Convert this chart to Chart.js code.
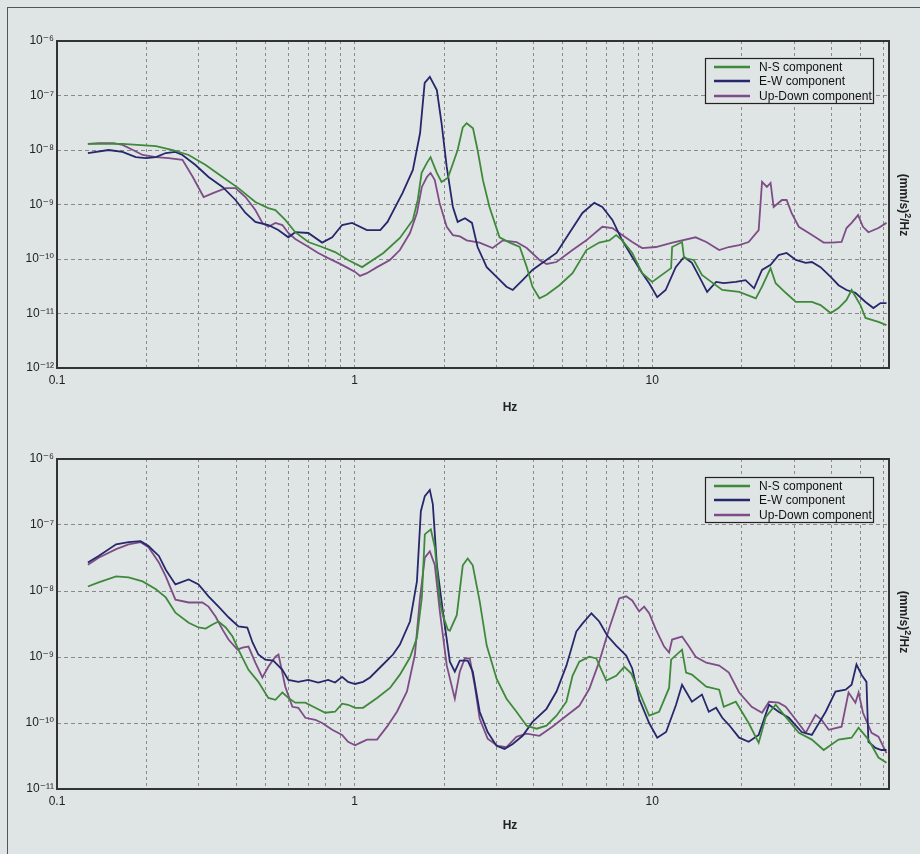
<!DOCTYPE html>
<html>
<head>
<meta charset="utf-8">
<script src="https://cdn.jsdelivr.net/npm/chart.js@4.4.1/dist/chart.umd.min.js"></script>
<style>
  html, body { margin: 0; padding: 0; }
  body {
    width: 920px; height: 854px; position: relative; overflow: hidden;
    background: #dfe5e4;
    font-family: "Liberation Sans", Arial, sans-serif;
  }
  .frame { position: absolute; left: 7px; top: 7px; right: -2px; bottom: -2px; border: 1px solid #555; }
  canvas { position: absolute; left: 0; }
  #top-chart { top: 0; }
  #bottom-chart { top: 427px; }
  .hz { position: absolute; font-size: 12px; font-weight: bold; color: #222; transform: translateX(-50%); }
  .ytitle {
    position: absolute; font-size: 12px; font-weight: bold; color: #222; white-space: nowrap;
    transform: translate(-50%, -50%) rotate(90deg);
  }
</style>
</head>
<body>
<div class="frame"></div>
<canvas id="top-chart" width="920" height="427"></canvas>
<canvas id="bottom-chart" width="920" height="427"></canvas>
<div class="hz" style="left:510px; top:400px;">Hz</div>
<div class="hz" style="left:510px; top:818px;">Hz</div>
<div class="ytitle" style="left:905px; top:205px;">(mm/s)<sup style="font-size:9px">2</sup>/Hz</div>
<div class="ytitle" style="left:905px; top:622px;">(mm/s)<sup style="font-size:9px">2</sup>/Hz</div>

<script>
// [Hz, (mm/s)^2/Hz]
const topNs = [[0.127,1.29e-8],[0.166,1.3e-8],[0.215,1.18e-8],[0.245,1.0e-8],[0.277,8.1e-9],[0.316,5.3e-9],[0.360,3.2e-9],[0.407,2.0e-9],[0.464,1.11e-9],[0.513,8.6e-10],[0.542,7.9e-10],[0.585,5.2e-10],[0.632,3.1e-10],[0.699,2.05e-10],[0.778,1.66e-10],[0.860,1.34e-10],[0.951,9.6e-11],[1.06,7.1e-11],[1.25,1.29e-10],[1.42,2.43e-10],[1.57,5.2e-10],[1.63,1.21e-9],[1.68,3.8e-9],[1.75,5.8e-9],[1.80,7.4e-9],[1.89,3.8e-9],[1.96,2.6e-9],[2.06,3.1e-9],[2.22,1.0e-8],[2.31,2.6e-8],[2.38,3.1e-8],[2.50,2.5e-8],[2.59,1.0e-8],[2.70,2.8e-9],[2.84,9.0e-10],[3.07,2.5e-10],[3.32,2.0e-10],[3.59,1.66e-10],[3.79,7.1e-11],[3.96,3.1e-11],[4.18,1.9e-11],[4.42,2.2e-11],[4.88,3.3e-11],[5.40,5.5e-11],[6.01,1.46e-10],[6.64,2.0e-10],[7.18,2.2e-10],[7.57,2.75e-10],[7.93,2.2e-10],[8.57,1.29e-10],[9.26,5.5e-11],[10.0,3.8e-11],[11.58,6.8e-11],[11.67,1.66e-10],[12.6,2.05e-10],[12.8,1.04e-10],[13.8,9.6e-11],[14.7,5.1e-11],[15.8,3.8e-11],[17.2,2.7e-11],[19.6,2.5e-11],[22.3,1.9e-11],[23.4,3.1e-11],[25.0,6.8e-11],[26.0,3.6e-11],[28.1,2.4e-11],[30.4,1.63e-11],[34.4,1.63e-11],[36.8,1.43e-11],[39.8,1.02e-11],[42.3,1.26e-11],[45.0,1.77e-11],[46.8,2.7e-11],[50.1,1.43e-11],[52.1,8.3e-12],[57.6,7.0e-12],[61.3,6.1e-12]];
const topEw = [[0.127,8.8e-9],[0.149,1.0e-8],[0.166,9.2e-9],[0.184,7.4e-9],[0.199,7.1e-9],[0.215,7.4e-9],[0.232,8.8e-9],[0.250,9.2e-9],[0.264,8.1e-9],[0.292,5.3e-9],[0.323,3.2e-9],[0.360,2.1e-9],[0.398,1.21e-9],[0.430,7.0e-10],[0.464,4.8e-10],[0.513,4.2e-10],[0.554,3.4e-10],[0.599,2.5e-10],[0.632,3.1e-10],[0.699,3.0e-10],[0.778,2.0e-10],[0.841,2.5e-10],[0.908,4.2e-10],[0.981,4.6e-10],[1.10,3.4e-10],[1.22,3.4e-10],[1.29,4.8e-10],[1.45,1.63e-9],[1.57,4.3e-9],[1.66,2.05e-8],[1.72,1.7e-7],[1.79,2.2e-7],[1.89,1.26e-7],[1.96,3.1e-8],[2.04,4.9e-9],[2.14,9.0e-10],[2.22,4.8e-10],[2.35,5.6e-10],[2.48,4.6e-10],[2.59,1.66e-10],[2.78,7.1e-11],[3.0,4.7e-11],[3.24,3.1e-11],[3.40,2.7e-11],[3.67,4.1e-11],[3.96,6.3e-11],[4.28,8.5e-11],[4.77,1.29e-10],[5.27,3.0e-10],[5.83,7.0e-10],[6.39,1.07e-9],[6.80,9.0e-10],[7.35,5.2e-10],[7.93,2.2e-10],[8.57,1.09e-10],[9.26,5.5e-11],[9.77,3.6e-11],[10.4,2.0e-11],[11.1,2.7e-11],[12.0,7.1e-11],[12.8,1.09e-10],[13.6,8.5e-11],[14.6,4.1e-11],[15.3,2.5e-11],[16.4,3.8e-11],[17.4,3.6e-11],[19.1,3.8e-11],[20.6,4.1e-11],[22.0,2.9e-11],[23.4,6.3e-11],[25.0,7.8e-11],[26.6,1.18e-10],[28.3,1.29e-10],[30.4,9.6e-11],[32.8,8.5e-11],[34.4,8.8e-11],[36.8,7.1e-11],[39.8,4.7e-11],[42.3,3.3e-11],[45.0,2.7e-11],[48.2,2.4e-11],[52.1,1.63e-11],[55.4,1.26e-11],[58.5,1.55e-11],[61.3,1.55e-11]];
const topUd = [[0.127,1.29e-8],[0.138,1.34e-8],[0.155,1.34e-8],[0.166,1.24e-8],[0.180,1.0e-8],[0.194,8.1e-9],[0.215,7.4e-9],[0.237,7.1e-9],[0.264,6.6e-9],[0.286,3.2e-9],[0.311,1.37e-9],[0.336,1.63e-9],[0.369,2.0e-9],[0.398,2.0e-9],[0.430,1.37e-9],[0.464,7.9e-10],[0.490,4.6e-10],[0.513,3.9e-10],[0.542,4.6e-10],[0.572,4.2e-10],[0.599,3.0e-10],[0.632,2.33e-10],[0.683,1.8e-10],[0.755,1.29e-10],[0.815,1.04e-10],[0.880,8.5e-11],[0.951,6.8e-11],[1.004,5.8e-11],[1.043,4.9e-11],[1.10,5.5e-11],[1.19,7.1e-11],[1.315,9.6e-11],[1.42,1.46e-10],[1.535,3.0e-10],[1.62,7.0e-10],[1.683,2.1e-9],[1.75,3.2e-9],[1.80,3.8e-9],[1.86,2.8e-9],[1.93,1.07e-9],[2.04,3.9e-10],[2.14,2.75e-10],[2.26,2.6e-10],[2.38,2.2e-10],[2.63,2.0e-10],[2.91,1.59e-10],[3.15,2.2e-10],[3.50,2.05e-10],[3.79,1.59e-10],[4.18,9.6e-11],[4.42,8.1e-11],[4.77,8.8e-11],[5.40,1.46e-10],[6.01,2.2e-10],[6.80,3.9e-10],[7.35,3.7e-10],[7.93,2.75e-10],[8.57,2.05e-10],[9.26,1.59e-10],[10.3,1.66e-10],[11.7,2.0e-10],[14.0,2.5e-10],[15.2,2.05e-10],[16.8,1.46e-10],[18.1,1.66e-10],[19.6,1.8e-10],[21.1,2.05e-10],[22.8,3.4e-10],[23.4,2.6e-9],[24.3,2.1e-9],[25.0,2.48e-9],[25.6,9.0e-10],[27.3,1.21e-9],[28.3,1.21e-9],[29.4,7.0e-10],[31.1,3.9e-10],[33.6,3.0e-10],[35.4,2.5e-10],[37.7,2.0e-10],[40.1,2.0e-10],[43.3,2.05e-10],[45.0,3.7e-10],[46.8,4.6e-10],[49.2,6.4e-10],[51.1,3.9e-10],[53.3,3.1e-10],[57.6,3.7e-10],[61.3,4.6e-10]];

const bottomNs = [[0.127,1.17e-8],[0.138,1.35e-8],[0.158,1.67e-8],[0.174,1.61e-8],[0.194,1.4e-8],[0.215,1.06e-8],[0.232,8.0e-9],[0.250,4.7e-9],[0.277,3.3e-9],[0.299,2.8e-9],[0.316,2.7e-9],[0.333,3.1e-9],[0.349,3.45e-9],[0.369,2.8e-9],[0.389,2.04e-9],[0.407,1.29e-9],[0.44,6.4e-10],[0.475,4.2e-10],[0.513,2.4e-10],[0.542,2.25e-10],[0.572,2.9e-10],[0.599,2.4e-10],[0.632,2.03e-10],[0.683,2.03e-10],[0.738,1.7e-10],[0.797,1.43e-10],[0.860,1.48e-10],[0.908,1.96e-10],[0.951,1.89e-10],[1.004,1.7e-10],[1.068,1.7e-10],[1.19,2.4e-10],[1.315,3.4e-10],[1.42,5.4e-10],[1.535,9.8e-10],[1.62,1.97e-9],[1.683,8.0e-9],[1.722,7.2e-8],[1.757,7.8e-8],[1.804,8.6e-8],[1.861,4.6e-8],[1.934,6.95e-9],[1.98,4.3e-9],[2.057,2.6e-9],[2.09,2.5e-9],[2.205,4.3e-9],[2.31,2.45e-8],[2.40,3.1e-8],[2.495,2.45e-8],[2.633,6.95e-9],[2.78,1.49e-9],[3.0,4.7e-10],[3.24,2.33e-10],[3.50,1.48e-10],[3.785,9.1e-11],[4.09,8.2e-11],[4.415,9.1e-11],[4.77,1.29e-10],[5.15,2.1e-10],[5.4,5.2e-10],[5.69,8.5e-10],[6.15,1.01e-9],[6.49,9.5e-10],[7.01,4.4e-10],[7.57,5.2e-10],[8.06,7.1e-10],[8.51,5.6e-10],[9.04,3.0e-10],[9.77,1.29e-10],[10.55,1.48e-10],[11.40,3.4e-10],[11.58,9.1e-10],[12.6,1.29e-9],[13.0,5.8e-10],[13.6,5.4e-10],[15.2,3.55e-10],[16.8,3.2e-10],[17.4,1.76e-10],[19.1,2.1e-10],[21.1,1.0e-10],[22.8,5.0e-11],[24.1,1.24e-10],[26.0,1.89e-10],[28.1,1.24e-10],[31.1,7.1e-11],[34.4,5.6e-11],[37.7,3.9e-11],[42.3,5.6e-11],[46.8,6.0e-11],[49.4,8.5e-11],[53.3,5.6e-11],[57.6,3.0e-11],[61.3,2.5e-11]];
const bottomEw = [[0.127,2.7e-8],[0.138,3.4e-8],[0.158,5.1e-8],[0.174,5.5e-8],[0.191,5.7e-8],[0.203,4.8e-8],[0.220,3.4e-8],[0.232,2.1e-8],[0.250,1.26e-8],[0.277,1.5e-8],[0.299,1.26e-8],[0.323,8.3e-9],[0.349,5.8e-9],[0.377,4.0e-9],[0.407,2.9e-9],[0.436,2.8e-9],[0.454,1.66e-9],[0.475,1.09e-9],[0.501,9.1e-10],[0.533,8.8e-10],[0.572,6.4e-10],[0.599,4.5e-10],[0.647,4.2e-10],[0.699,4.5e-10],[0.755,4.1e-10],[0.815,4.5e-10],[0.860,4.1e-10],[0.908,5.0e-10],[0.951,4.2e-10],[1.004,3.9e-10],[1.068,4.2e-10],[1.127,4.9e-10],[1.246,7.7e-10],[1.346,1.09e-9],[1.42,1.54e-9],[1.535,3.45e-9],[1.62,1.4e-8],[1.67,1.62e-7],[1.722,2.74e-7],[1.79,3.4e-7],[1.832,2.07e-7],[1.89,2.5e-8],[1.98,4.9e-9],[2.09,8.5e-10],[2.172,6.0e-10],[2.257,8.8e-10],[2.40,8.8e-10],[2.495,6.0e-10],[2.633,1.48e-10],[2.80,7.3e-11],[3.0,4.5e-11],[3.19,4.05e-11],[3.40,4.8e-11],[3.67,6.4e-11],[3.963,1.04e-10],[4.415,1.64e-10],[4.77,3.0e-10],[5.15,7.4e-10],[5.56,2.43e-9],[5.83,3.2e-9],[6.25,4.6e-9],[6.64,3.45e-9],[7.07,2.1e-9],[7.57,1.49e-9],[8.18,1.05e-9],[8.57,6.7e-10],[9.04,2.33e-10],[9.77,1.0e-10],[10.4,6.0e-11],[11.14,7.3e-11],[12.03,1.89e-10],[12.6,3.8e-10],[13.6,2.1e-10],[14.7,2.7e-10],[15.5,1.48e-10],[16.4,1.7e-10],[17.2,1.2e-10],[18.1,9.4e-11],[19.6,6.0e-11],[21.1,5.2e-11],[22.8,6.6e-11],[24.7,1.89e-10],[26.6,1.48e-10],[28.8,1.2e-10],[31.8,7.3e-11],[34.4,6.6e-11],[38.3,1.48e-10],[41.3,3.0e-10],[44.7,3.2e-10],[46.8,3.8e-10],[48.6,7.7e-10],[50.5,5.4e-10],[52.5,4.2e-10],[53.3,5.2e-11],[56.3,4.2e-11],[58.9,3.9e-11],[61.3,3.9e-11]];
const bottomUd = [[0.127,2.5e-8],[0.138,3.2e-8],[0.158,4.3e-8],[0.174,5.1e-8],[0.191,5.5e-8],[0.203,4.6e-8],[0.220,2.7e-8],[0.232,1.67e-8],[0.250,7.4e-9],[0.277,6.7e-9],[0.308,6.7e-9],[0.323,5.8e-9],[0.341,4.1e-9],[0.360,2.6e-9],[0.377,1.84e-9],[0.404,1.29e-9],[0.42,1.39e-9],[0.44,1.44e-9],[0.464,8.2e-10],[0.490,4.9e-10],[0.513,7.1e-10],[0.542,1.01e-9],[0.555,1.09e-9],[0.585,3.55e-10],[0.618,1.76e-10],[0.647,1.7e-10],[0.683,1.2e-10],[0.738,1.12e-10],[0.778,1.0e-10],[0.841,7.9e-11],[0.908,6.6e-11],[0.951,5.2e-11],[1.004,4.6e-11],[1.043,5.0e-11],[1.101,5.6e-11],[1.19,5.6e-11],[1.285,8.8e-11],[1.388,1.48e-10],[1.50,3.0e-10],[1.595,1.09e-9],[1.657,7.4e-9],[1.722,3.2e-8],[1.79,4.0e-8],[1.861,2.45e-8],[1.934,4.9e-9],[2.041,7.4e-10],[2.172,2.33e-10],[2.257,6.0e-10],[2.346,9.5e-10],[2.438,9.5e-10],[2.534,3.7e-10],[2.633,1.16e-10],[2.80,5.8e-11],[3.025,4.5e-11],[3.24,4.3e-11],[3.50,6.2e-11],[3.785,6.9e-11],[4.18,6.4e-11],[4.62,8.8e-11],[5.15,1.29e-10],[5.69,1.82e-10],[6.15,3.3e-10],[6.64,8.5e-10],[7.17,2.7e-9],[7.75,7.7e-9],[8.18,8.3e-9],[8.57,7.2e-9],[9.04,4.9e-9],[9.4,5.8e-9],[9.77,4.6e-9],[10.3,2.6e-9],[10.97,1.44e-9],[11.4,1.17e-9],[11.67,1.84e-9],[12.6,2.04e-9],[13.3,1.44e-9],[14.0,1.01e-9],[15.2,8.2e-10],[16.8,7.4e-10],[18.1,5.8e-10],[19.6,2.9e-10],[21.6,1.76e-10],[23.4,1.43e-10],[24.7,2.1e-10],[26.6,2.03e-10],[28.1,1.76e-10],[30.4,1.12e-10],[32.8,7.1e-11],[35.4,1.33e-10],[37.1,1.12e-10],[39.2,7.9e-11],[43.3,8.8e-11],[45.7,2.9e-10],[48.2,2.03e-10],[49.4,2.9e-10],[51.1,1.43e-10],[54.6,7.1e-11],[57.6,6.2e-11],[61.3,3.5e-11]];

const seriesNames = ['N-S component', 'E-W component', 'Up-Down component'];
const seriesColors = ['#3f8a3a', '#27276b', '#7e4c87'];

const xTickValues = [0.1, 1, 10];
const xTickLabels = ['0.1', '1', '10'];
const topYTicks = [1e-6, 1e-7, 1e-8, 1e-9, 1e-10, 1e-11, 1e-12];
const topYLabels = ['10⁻⁶', '10⁻⁷', '10⁻⁸', '10⁻⁹', '10⁻¹⁰', '10⁻¹¹', '10⁻¹²'];
const bottomYTicks = [1e-6, 1e-7, 1e-8, 1e-9, 1e-10, 1e-11];
const bottomYLabels = ['10⁻⁶', '10⁻⁷', '10⁻⁸', '10⁻⁹', '10⁻¹⁰', '10⁻¹¹'];

const FONT = '"Liberation Sans", "DejaVu Sans", Arial, sans-serif';

// 1..9 x 10^n positions for the dotted vertical grid
function decadeSteps(min, max) {
  const out = [];
  for (let e = Math.floor(Math.log10(min)); e <= Math.ceil(Math.log10(max)); e++) {
    for (let k = 1; k <= 9; k++) {
      const v = k * Math.pow(10, e);
      if (v >= min * 0.999 && v <= max * 1.001) out.push(v);
    }
  }
  return out;
}

function labelFor(v, values, labels) {
  const i = values.findIndex(t => Math.abs(Math.log10(t) - Math.log10(v)) < 1e-6);
  return i < 0 ? '' : labels[i];
}

// frame round the plot area + boxed legend in the upper right corner
const frameLegend = {
  id: 'frameLegend',
  afterDraw(chart, args, opts) {
    const { ctx, chartArea: a } = chart;
    ctx.save();
    ctx.strokeStyle = '#333';
    ctx.lineWidth = 2;
    ctx.strokeRect(a.left, a.top, a.right - a.left, a.bottom - a.top);

    const w = 168, h = 45;
    const x0 = a.right - 16 - w, y0 = a.top + opts.offset;
    ctx.fillStyle = '#dfe5e4';
    ctx.fillRect(x0, y0, w, h);
    ctx.strokeStyle = '#222';
    ctx.lineWidth = 1.2;
    ctx.strokeRect(x0 + 0.5, y0 + 0.5, w, h);
    const rows = [9, 23, 38];
    ctx.font = '12px ' + FONT;
    ctx.textBaseline = 'middle';
    chart.data.datasets.forEach((ds, i) => {
      const y = y0 + rows[i];
      ctx.strokeStyle = ds.borderColor;
      ctx.lineWidth = 2.5;
      ctx.beginPath();
      ctx.moveTo(x0 + 9, y);
      ctx.lineTo(x0 + 45, y);
      ctx.stroke();
      ctx.fillStyle = '#111';
      ctx.fillText(ds.label, x0 + 54, y + 1);
    });
    ctx.restore();
  }
};

function makeChart(id, series, yTicks, yLabels, padTop, xAxisHeight, legendOffset) {
  return new Chart(document.getElementById(id), {
    type: 'line',
    data: {
      datasets: series.map((s, i) => ({
        label: seriesNames[i],
        data: s.map(p => ({ x: p[0], y: p[1] })),
        borderColor: seriesColors[i],
        borderWidth: 1.8,
        pointRadius: 0,
        tension: 0,
        fill: false
      }))
    },
    options: {
      responsive: false,
      animation: false,
      devicePixelRatio: 1,
      layout: { padding: { top: padTop, right: 31, left: 0, bottom: 0 } },
      plugins: {
        legend: { display: false },
        tooltip: { enabled: false },
        frameLegend: { offset: legendOffset }
      },
      scales: {
        x: {
          type: 'logarithmic',
          min: 0.1,
          max: 62.5,
          afterFit: s => { s.height = xAxisHeight; },
          afterBuildTicks: s => { s.ticks = decadeSteps(0.1, 62.5).map(v => ({ value: v })); },
          ticks: {
            autoSkip: false, maxRotation: 0, padding: 5, color: '#222',
            font: { family: FONT, size: 12 },
            callback: v => labelFor(v, xTickValues, xTickLabels)
          },
          grid: { color: '#8a8a8a', lineWidth: 1, drawTicks: false },
          border: { display: false, dash: [3, 3] }
        },
        y: {
          type: 'logarithmic',
          min: yTicks[yTicks.length - 1],
          max: yTicks[0],
          afterFit: s => { s.width = 57; },
          afterBuildTicks: s => { s.ticks = yTicks.map(v => ({ value: v })); },
          ticks: {
            autoSkip: false, padding: 3, color: '#222',
            font: { family: FONT, size: 12 },
            callback: v => labelFor(v, yTicks, yLabels)
          },
          grid: { color: '#8a8a8a', lineWidth: 1, drawTicks: false },
          border: { display: false, dash: [4, 3] }
        }
      }
    },
    plugins: [frameLegend]
  });
}

makeChart('top-chart', [topNs, topEw, topUd], topYTicks, topYLabels, 41, 59, 17);
makeChart('bottom-chart', [bottomNs, bottomEw, bottomUd], bottomYTicks, bottomYLabels, 32, 65, 18);
</script>
</body>
</html>
